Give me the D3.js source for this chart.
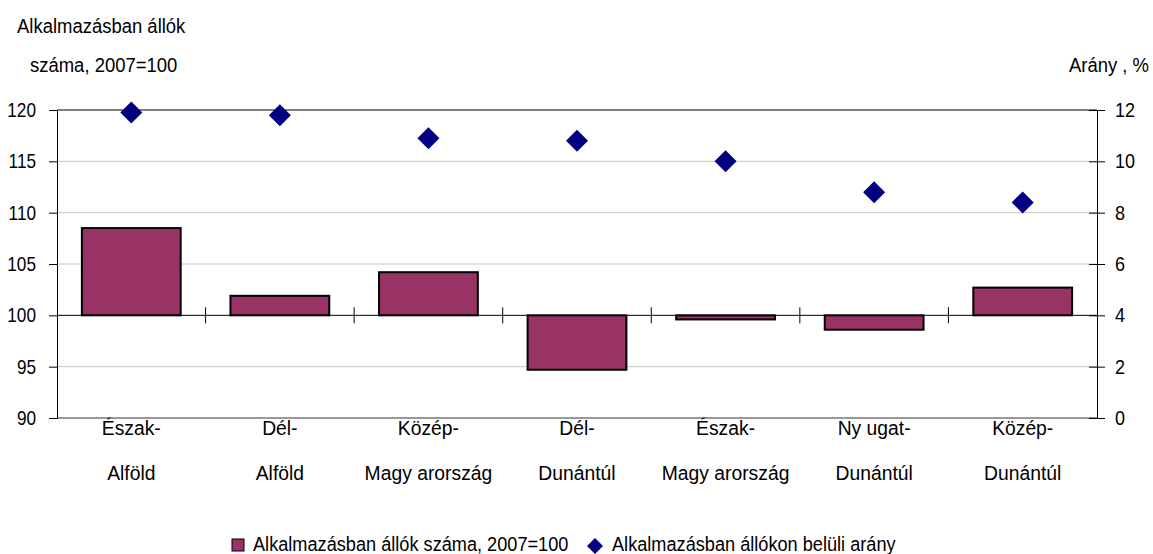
<!DOCTYPE html>
<html><head><meta charset="utf-8">
<script src="https://cdn.jsdelivr.net/npm/d3@7"></script>
<style>body{margin:0;background:#fff}svg{display:block}text{font-family:"Liberation Sans",Arial,sans-serif;fill:#000}</style>
</head><body>
<svg id="c" width="1153" height="554"></svg>
<script>
const categories1 = ["Észak-","Dél-","Közép-","Dél-","Észak-","Ny ugat-","Közép-"];
const categories2 = ["Alföld","Alföld","Magy arország","Dunántúl","Magy arország","Dunántúl","Dunántúl"];
const indexValues = [108.5, 101.9, 104.2, 94.7, 99.6, 98.6, 102.7];
const shareValues = [11.9, 11.8, 10.9, 10.8, 10.0, 8.8, 8.4];
const leftTicks = [90, 95, 100, 105, 110, 115, 120];
const rightTicks = [0, 2, 4, 6, 8, 10, 12];
const leftTitle = ["Alkalmazásban állók", "száma, 2007=100"];
const rightTitle = "Arány , %";
const legendLabels = ["Alkalmazásban állók száma, 2007=100", "Alkalmazásban állókon belüli arány"];

const svg = d3.select("#c");
const L = 57, R = 1097, T = 110, B = 418;
const idx = d3.range(categories1.length);
const x = d3.scaleBand().domain(idx).range([L, R]).paddingInner(0.335).paddingOuter(0.1675);
const yL = d3.scaleLinear().domain([90, 120]).range([B, T]);
const yR = d3.scaleLinear().domain([0, 12]).range([B, T]);

function txt(px, py, s, anchor, size, sx) {
  const g = svg.append("g").attr("transform", `translate(${px},${py}) scale(${sx},1)`);
  g.append("text").attr("text-anchor", anchor || "start").attr("font-size", size).text(s);
}

// gridlines
svg.append("g").selectAll("line").data(leftTicks.filter(t => t !== 90 && t !== 100 && t !== 120))
  .join("line").attr("x1", L).attr("x2", R).attr("y1", d => yL(d)).attr("y2", d => yL(d))
  .attr("stroke", "#c8c8c8").attr("stroke-width", 1);
// top & bottom borders
svg.append("line").attr("x1", L).attr("x2", R).attr("y1", yL(120)).attr("y2", yL(120)).attr("stroke", "#000");
svg.append("line").attr("x1", L).attr("x2", R).attr("y1", yL(90)).attr("y2", yL(90)).attr("stroke", "#333");

// bars
svg.append("g").selectAll("rect").data(indexValues).join("rect")
  .attr("x", (d, i) => x(i)).attr("width", x.bandwidth())
  .attr("y", d => yL(Math.max(d, 100))).attr("height", d => Math.abs(yL(d) - yL(100)))
  .attr("fill", "#993366").attr("stroke", "#000").attr("stroke-width", 2);

// category axis at 100
svg.append("line").attr("x1", L).attr("x2", R).attr("y1", yL(100)).attr("y2", yL(100)).attr("stroke", "#000");
const step = (R - L) / categories1.length;
svg.append("g").selectAll("line").data(d3.range(1, categories1.length)).join("line")
  .attr("x1", d => L + d * step).attr("x2", d => L + d * step)
  .attr("y1", yL(100) - 8).attr("y2", yL(100) + 8).attr("stroke", "#000");

// left axis
const gl = svg.append("g").attr("transform", `translate(${L},0)`)
  .call(d3.axisLeft(yL).tickValues(leftTicks).tickSize(8).tickFormat(""));
gl.select(".domain").attr("stroke", "#000");
gl.selectAll(".tick line").attr("stroke", "#000");
leftTicks.forEach(t => txt(36, yL(t) + 7, String(t), "end", 20, 0.86));

// right axis
const gr = svg.append("g").attr("transform", `translate(${R},0)`)
  .call(d3.axisRight(yR).tickValues(rightTicks).tickSize(8).tickFormat(""));
gr.select(".domain").attr("stroke", "#000");
gr.selectAll(".tick line").attr("stroke", "#000").attr("x1", -8);
rightTicks.forEach(t => txt(1115, yR(t) + 7, String(t), "start", 20, 0.9));

// diamonds
svg.append("g").selectAll("path").data(shareValues).join("path")
  .attr("d", (d, i) => {
    const cx = x(i) + x.bandwidth() / 2, cy = yR(d), r = 11;
    return `M${cx},${cy - r}L${cx + r},${cy}L${cx},${cy + r}L${cx - r},${cy}Z`;
  }).attr("fill", "#000080");

// category labels
idx.forEach(i => {
  const cx = x(i) + x.bandwidth() / 2;
  txt(cx, 435, categories1[i], "middle", 21, 0.92);
  txt(cx, 480, categories2[i], "middle", 21, 0.92);
});

// axis titles
txt(17, 33, leftTitle[0], "start", 21, 0.88);
txt(30, 72, leftTitle[1], "start", 21, 0.88);
txt(1149, 72, rightTitle, "end", 21, 0.88);

// legend
svg.append("rect").attr("x", 232).attr("y", 539).attr("width", 12).attr("height", 12)
  .attr("fill", "#993366").attr("stroke", "#000").attr("stroke-width", 1);
txt(253, 551, legendLabels[0], "start", 21, 0.865);
svg.append("path").attr("d", "M595,538L603,546L595,554L587,546Z").attr("fill", "#000080");
txt(612, 551, legendLabels[1], "start", 21, 0.865);
</script>
</body></html>
